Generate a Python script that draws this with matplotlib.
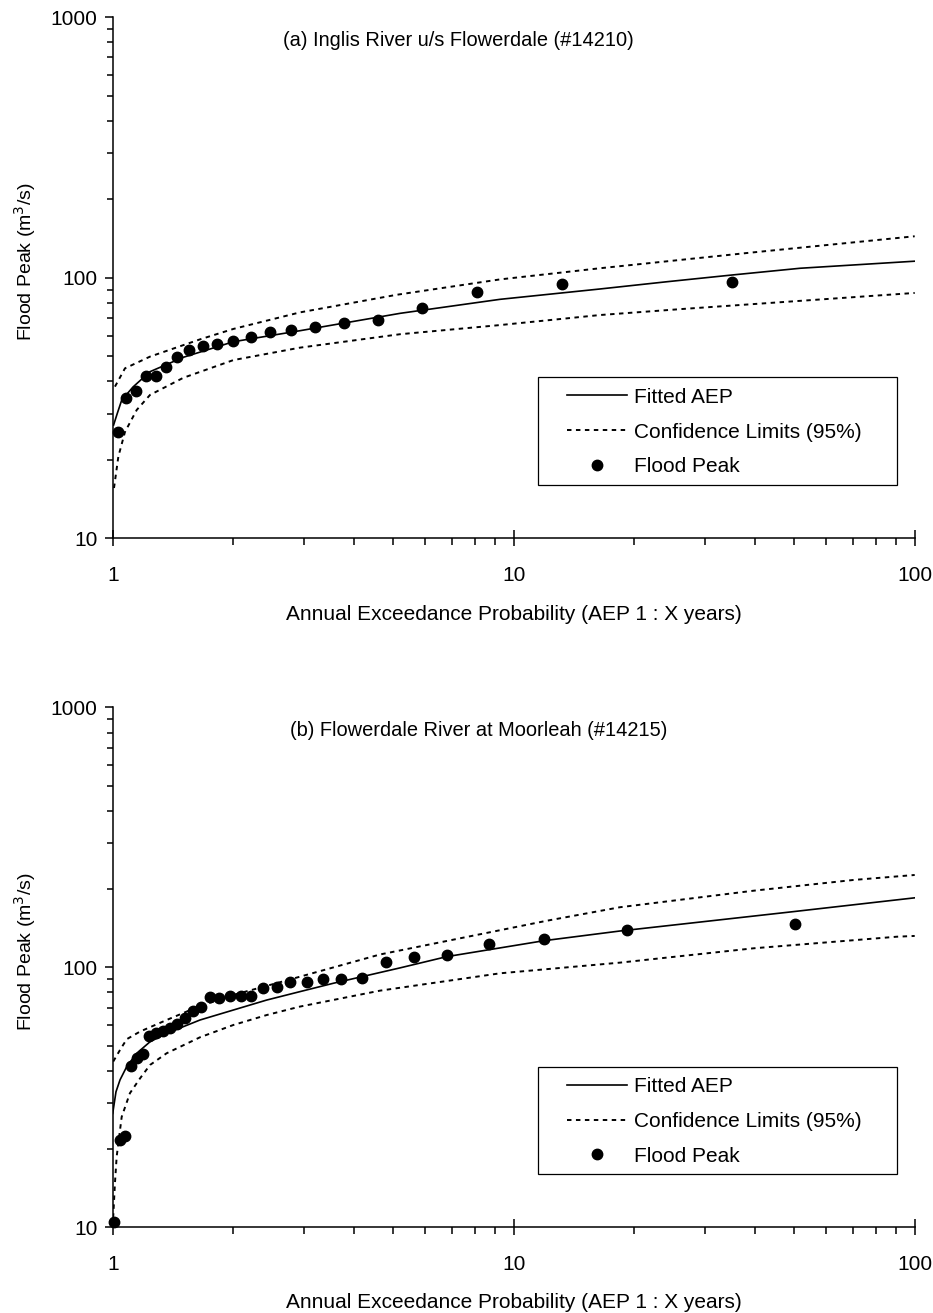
import matplotlib
matplotlib.use("Agg")
import matplotlib.pyplot as plt
import matplotlib.ticker as mticker
from matplotlib.lines import Line2D
from matplotlib.patches import Rectangle

plt.rcParams['font.family'] = ['Liberation Sans', 'DejaVu Sans']

# --- (a) Inglis River u/s Flowerdale (#14210) ---
a_obs_aep = [1.03, 1.08, 1.14, 1.21, 1.28, 1.36, 1.45, 1.55, 1.68, 1.82, 1.99,
             2.21, 2.47, 2.78, 3.2, 3.77, 4.6, 5.9, 8.1, 13.2, 35.0]
a_obs_peak = [25.5, 34.6, 36.9, 42.1, 42.1, 45.5, 49.6, 52.8, 54.8, 55.5, 57.2,
              59.4, 61.9, 62.8, 64.5, 67.2, 68.8, 76.7, 88.4, 94.6, 96.0]

a_fit_aep = [1.005, 1.027, 1.053, 1.124, 1.239, 1.5, 2.0, 2.93, 5.21, 9.24,
             16.4, 24.1, 35.0, 51.8, 100]
a_fit_peak = [27.2, 30.2, 33.9, 38.1, 43.6, 49.5, 56.8, 62.6, 73.0, 82.6,
              90.5, 96.5, 102.4, 108.7, 115.7]

a_up_aep = [1.013, 1.073, 1.239, 1.651, 2.0, 2.93, 5.11, 9.24, 16.4, 38.8, 100]
a_up_peak = [38.2, 44.9, 49.8, 58.0, 63.6, 73.6, 86.0, 98.5, 108.7, 124.7, 144.2]

a_lo_aep = [1.0075, 1.033, 1.073, 1.148, 1.239, 1.5, 2.0, 2.93, 5.21, 9.24,
            16.4, 26.5, 100]
a_lo_peak = [15.6, 20.6, 25.6, 31.1, 35.5, 41.3, 48.3, 53.9, 60.7, 65.8,
             71.9, 75.9, 87.4]

# --- (b) Flowerdale River at Moorleah (#14215) ---
b_obs_aep = [1.007, 1.043, 1.073, 1.109, 1.152, 1.192, 1.234, 1.282, 1.333,
             1.39, 1.449, 1.515, 1.583, 1.66, 1.748, 1.844, 1.961, 2.086,
             2.212, 2.366, 2.564, 2.768, 3.046, 3.34, 3.703, 4.178, 4.80,
             5.64, 6.81, 8.68, 11.92, 19.13, 50.3]
b_obs_peak = [10.5, 21.7, 22.4, 41.7, 44.7, 46.4, 54.4, 55.8, 56.9, 58.3,
              60.5, 63.7, 68.1, 70.6, 76.7, 76.4, 77.8, 77.8, 77.8, 83.0,
              84.2, 87.5, 87.5, 89.9, 89.9, 91.2, 105.1, 109.8, 111.5, 122.6,
              128.5, 139.2, 146.8]

b_fit_aep = [1.0, 1.019, 1.043, 1.084, 1.148, 1.239, 1.363, 1.651, 2.0, 2.42,
             2.93, 3.55, 5.21, 6.81, 11.92, 18.4, 49.8, 92.8, 100]
b_fit_peak = [27.4, 33.2, 36.9, 41.5, 46.7, 51.7, 55.7, 62.7, 68.5, 74.8,
              80.6, 86.8, 99.5, 109.9, 126.6, 137.9, 163.7, 182.6, 185.0]

b_up_aep = [1.003, 1.043, 1.084, 1.17, 1.363, 1.651, 2.0, 2.42, 2.93,
            4.64, 12.09, 18.4, 39.6, 70.3, 100]
b_up_peak = [43.4, 48.1, 52.9, 56.6, 62.7, 71.0, 78.3, 84.8, 92.0,
             112.0, 151.0, 170.2, 197.0, 216.7, 226.5]

b_lo_aep = [1.0, 1.013, 1.023, 1.053, 1.104, 1.17, 1.239, 1.363, 1.651, 2.0,
            2.42, 2.93, 4.64, 9.24, 18.4, 39.6, 90.2, 100]
b_lo_peak = [10.05, 14.8, 18.7, 26.6, 32.8, 37.4, 42.1, 46.7, 53.8, 60.0,
             65.5, 70.6, 81.3, 94.8, 104.2, 118.3, 131.1, 132.0]

titles = ['(a) Inglis River u/s Flowerdale (#14210)',
          '(b) Flowerdale River at Moorleah (#14215)']
legend_labels = ['Fitted AEP', 'Confidence Limits (95%)', 'Flood Peak']

DOT = (0, (2.3, 2.3))
FS = 15

fig = plt.figure(figsize=(9.33, 13.13), dpi=100)
ax_a = fig.add_axes([0.1208, 0.5900, 0.8596, 0.3970])
ax_b = fig.add_axes([0.1208, 0.0653, 0.8596, 0.3960])

panels = [
    (ax_a, a_obs_aep, a_obs_peak, a_fit_aep, a_fit_peak, a_up_aep, a_up_peak,
     a_lo_aep, a_lo_peak, titles[0], 0.4306),
    (ax_b, b_obs_aep, b_obs_peak, b_fit_aep, b_fit_peak, b_up_aep, b_up_peak,
     b_lo_aep, b_lo_peak, titles[1], 0.4567),
]

for (ax, ox, oy, fx, fy, ux, uy, lx, ly, title, tx) in panels:
    ax.plot(fx, fy, color='black', lw=1.2, solid_joinstyle='round')
    ax.plot(ux, uy, color='black', lw=1.4, linestyle=DOT)
    ax.plot(lx, ly, color='black', lw=1.4, linestyle=DOT)
    ax.plot(ox, oy, 'o', color='black', ms=7.5, clip_on=False, zorder=5)

    ax.set_xscale('log')
    ax.set_yscale('log')
    ax.set_xlim(1, 100)
    ax.set_ylim(10, 1000)

    for s in ['top', 'right']:
        ax.spines[s].set_visible(False)
    for s in ['left', 'bottom']:
        ax.spines[s].set_linewidth(1.1)

    ax.xaxis.set_major_locator(mticker.FixedLocator([1, 10, 100]))
    ax.yaxis.set_major_locator(mticker.FixedLocator([10, 100, 1000]))
    ax.xaxis.set_major_formatter(mticker.FuncFormatter(lambda v, p: '%g' % v))
    ax.yaxis.set_major_formatter(mticker.FuncFormatter(lambda v, p: '%g' % v))
    ax.xaxis.set_minor_locator(mticker.LogLocator(base=10, subs=range(2, 10)))
    ax.yaxis.set_minor_locator(mticker.LogLocator(base=10, subs=range(2, 10)))
    ax.xaxis.set_minor_formatter(mticker.NullFormatter())
    ax.yaxis.set_minor_formatter(mticker.NullFormatter())

    ax.tick_params(axis='x', which='major', direction='inout', length=12,
                   width=1.1, labelsize=FS, pad=14)
    ax.tick_params(axis='x', which='minor', direction='out', length=5, width=1.1)
    ax.tick_params(axis='y', which='major', direction='out', length=6,
                   width=1.1, labelsize=FS, pad=5)
    ax.tick_params(axis='y', which='minor', direction='out', length=4, width=1.1)

    ax.set_xlabel('Annual Exceedance Probability (AEP 1 : X years)',
                  fontsize=FS, labelpad=14)
    ax.set_ylabel('Flood Peak (m$^3$/s)', fontsize=14)
    ax.yaxis.set_label_coords(-0.093, 0.53)

    ax.text(tx, 0.956, title, transform=ax.transAxes, fontsize=14.4,
            ha='center', va='center')

    # legend: frame drawn as a plain rectangle, entries via legend()
    handles = [Line2D([], [], color='black', lw=1.2),
               Line2D([], [], color='black', lw=1.4, linestyle=DOT),
               Line2D([], [], color='black', marker='o', ls='none', ms=7.5)]
    ax.legend(handles, legend_labels, loc='upper left',
              bbox_to_anchor=(0.5661, 0.289), frameon=False, fontsize=FS,
              handlelength=2.88, handletextpad=0.35, labelspacing=0.76,
              borderpad=0, borderaxespad=0)
    ax.add_patch(Rectangle((0.5307, 0.1023), 0.4469, 0.2066,
                           transform=ax.transAxes, fill=False,
                           edgecolor='black', lw=0.9, clip_on=False))

fig.savefig('out.png', dpi=100)
